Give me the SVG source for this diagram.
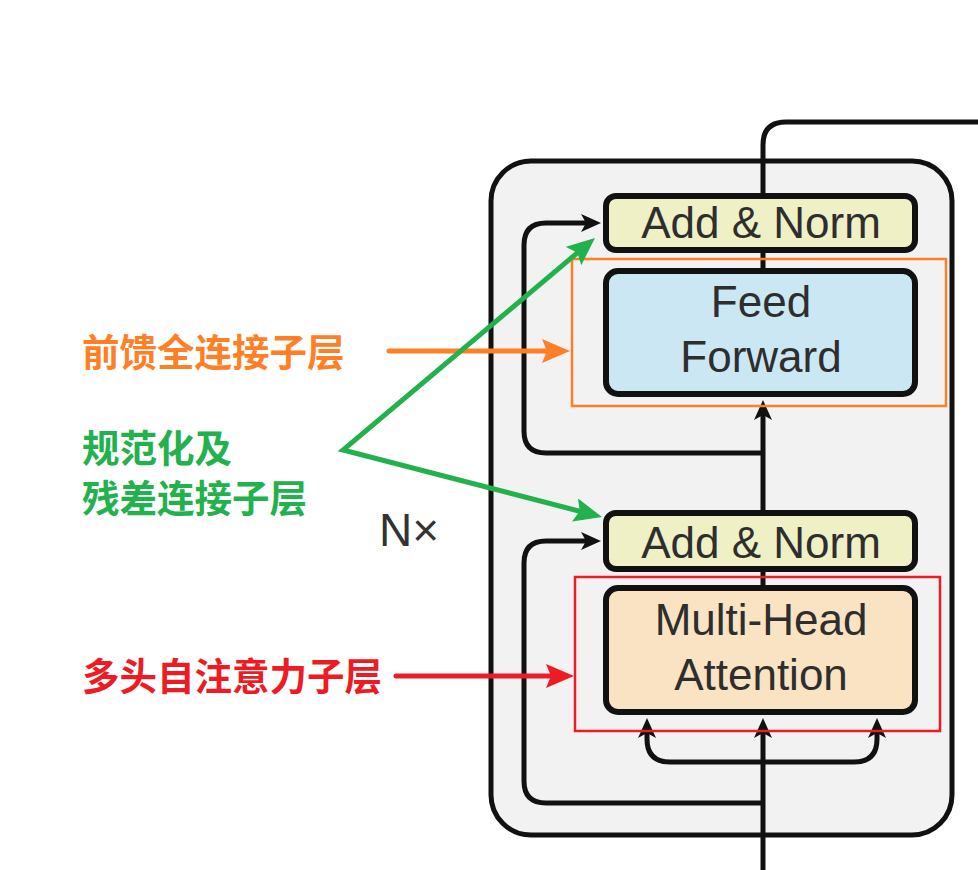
<svg xmlns="http://www.w3.org/2000/svg" width="978" height="870" viewBox="0 0 978 870">
<style>
.ln{fill:none;stroke:#111;stroke-width:5}
.box{stroke:#111;stroke-width:6}
.lbl{font-family:"Liberation Sans",Arial,sans-serif;font-size:44px;fill:#2e2e2e;text-anchor:middle}
.cn{font-family:"Noto Sans CJK SC",sans-serif;font-size:37.5px;font-weight:bold}
.hl{fill:none;stroke-width:2.5}
</style>
<defs>
<marker id="ab" viewBox="0 0 20 18" refX="9" refY="9" markerWidth="20" markerHeight="18" markerUnits="userSpaceOnUse" orient="auto">
<path d="M0,0 L20,9 L0,18 L5,9 z" fill="#111"/>
</marker>
<marker id="ao" viewBox="0 0 28 24" refX="10" refY="12" markerWidth="28" markerHeight="24" markerUnits="userSpaceOnUse" orient="auto">
<path d="M0,0 L28,12 L0,24 L5,12 z" fill="#FF7F27"/>
</marker>
<marker id="ag" viewBox="0 0 28 24" refX="10" refY="12" markerWidth="28" markerHeight="24" markerUnits="userSpaceOnUse" orient="auto-start-reverse">
<path d="M0,0 L28,12 L0,24 L5,12 z" fill="#22B14C"/>
</marker>
<marker id="ar" viewBox="0 0 28 24" refX="10" refY="12" markerWidth="28" markerHeight="24" markerUnits="userSpaceOnUse" orient="auto">
<path d="M0,0 L28,12 L0,24 L5,12 z" fill="#ED1C24"/>
</marker>
</defs>
<rect width="978" height="870" fill="#ffffff"/>
<g id="container">
<rect x="491" y="161" width="461" height="674" rx="40" fill="#F2F2F2" stroke="#111" stroke-width="5"/>
<text x="379" y="546" font-family="Liberation Sans,Arial,sans-serif" font-size="46" fill="#333">N×</text>
</g>
<g id="connectors">
<path class="ln" d="M763,194 V145 Q763,122 786,122 H978"/>
<path class="ln" d="M763,250 V271"/>
<path class="ln" d="M763,569 V588"/>
<path class="ln" d="M763,511 V411" marker-end="url(#ab)"/>
<path class="ln" d="M763,453 H546 Q524,453 524,431 V245 Q524,223 546,223 H590" marker-end="url(#ab)"/>
<path class="ln" d="M763,803 H546 Q524,803 524,781 V563 Q524,541 546,541 H590" marker-end="url(#ab)"/>
<path class="ln" d="M763,870 V729" marker-end="url(#ab)"/>
<path class="ln" d="M763,762 H670 Q647,762 647,739 V729" marker-end="url(#ab)"/>
<path class="ln" d="M763,762 H854 Q877,762 877,739 V729" marker-end="url(#ab)"/>
</g>
<g id="addnorm1">
<rect class="box" x="606" y="196" width="309" height="54" rx="10" fill="#F0F0C6"/>
<text class="lbl" x="761" y="238">Add &amp; Norm</text>
</g>
<g id="feedforward">
<rect class="box" x="606" y="271" width="309" height="123" rx="12" fill="#CBE7F4"/>
<text class="lbl" x="761" y="317">Feed</text>
<text class="lbl" x="761" y="372">Forward</text>
</g>
<g id="addnorm2">
<rect class="box" x="606" y="513" width="309" height="56" rx="10" fill="#F0F0C6"/>
<text class="lbl" x="761" y="558">Add &amp; Norm</text>
</g>
<g id="mha">
<rect class="box" x="606" y="588" width="309" height="124" rx="12" fill="#F9E3C3"/>
<text class="lbl" x="761" y="635">Multi-Head</text>
<text class="lbl" x="761" y="690">Attention</text>
</g>
<g id="ff-highlight">
<rect class="hl" x="572" y="259" width="374" height="147" stroke="#FF7F27"/>
</g>
<g id="mha-highlight">
<rect class="hl" x="575" y="577" width="365" height="154" stroke="#ED1C24"/>
</g>
<g id="label-ff">
<text class="cn" x="82" y="366" fill="#FF7F27">前馈全连接子层</text>
<path d="M389,351 H552" fill="none" stroke="#FF7F27" stroke-width="5" stroke-linecap="round" marker-end="url(#ao)"/>
</g>
<g id="label-norm">
<text class="cn" x="82" y="462" fill="#22B14C">规范化及</text>
<text class="cn" x="82" y="512" fill="#22B14C">残差连接子层</text>
<path d="M581.2,249.6 L343,450 L584.6,512.5" fill="none" stroke="#22B14C" stroke-width="5" stroke-linejoin="miter" marker-start="url(#ag)" marker-end="url(#ag)"/>
</g>
<g id="label-mha">
<text class="cn" x="82" y="690" fill="#ED1C24">多头自注意力子层</text>
<path d="M396,676 H556" fill="none" stroke="#ED1C24" stroke-width="5" stroke-linecap="round" marker-end="url(#ar)"/>
</g>
</svg>
